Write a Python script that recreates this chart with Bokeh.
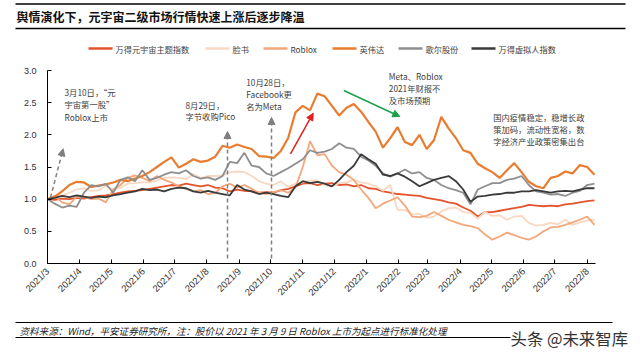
import math
import pandas as pd
from bokeh.plotting import figure
from bokeh.layouts import column
from bokeh.models import (Range1d, FixedTicker, PrintfTickFormatter, Arrow,
                          NormalHead, Label)
from bokeh.embed import file_html
from bokeh.resources import INLINE

# ---------------- data (weekly, normalised to 2021-03-09 = 1) ----------------
series_names = ["万得元宇宙主题指数", "脸书", "Roblox", "英伟达", "歌尔股份", "万得虚拟人指数"]

metaverse_idx = [1.00, 0.99, 1.01, 1.00, 1.02, 1.01, 1.03, 1.05, 1.06, 1.08,
                 1.10, 1.12, 1.13, 1.14, 1.16, 1.18, 1.20, 1.22, 1.21, 1.24,
                 1.22, 1.20, 1.22, 1.18, 1.17, 1.12, 1.15, 1.13, 1.12, 1.10,
                 1.11, 1.10, 1.14, 1.16, 1.20, 1.24, 1.25, 1.22, 1.24, 1.25,
                 1.22, 1.23, 1.20, 1.22, 1.17, 1.16, 1.12, 1.10, 1.08, 1.07,
                 1.06, 1.05, 1.02, 1.00, 0.98, 0.95, 0.93, 0.87, 0.82, 0.73,
                 0.80, 0.80, 0.82, 0.84, 0.86, 0.88, 0.91, 0.90, 0.89, 0.90,
                 0.89, 0.92, 0.93, 0.95, 0.97, 0.98]

facebook = [1.00, 1.05, 1.06, 1.10, 1.15, 1.17, 1.13, 1.14, 1.20, 1.15,
            1.18, 1.24, 1.25, 1.26, 1.26, 1.29, 1.33, 1.34, 1.33, 1.31,
            1.39, 1.33, 1.36, 1.36, 1.37, 1.42, 1.43, 1.42, 1.36, 1.28,
            1.24, 1.22, 1.28, 1.19, 1.24, 1.26, 1.29, 1.29, 1.22, 1.20,
            1.25, 1.26, 1.30, 1.26, 1.24, 1.20, 1.13, 1.22, 0.83, 0.83,
            0.76, 0.77, 0.71, 0.73, 0.81, 0.86, 0.87, 0.80, 0.79, 0.70,
            0.80, 0.74, 0.75, 0.68, 0.73, 0.74, 0.63, 0.59, 0.60, 0.63,
            0.61, 0.68, 0.60, 0.64, 0.67, 0.68]

roblox = [1.00, 1.05, 0.95, 0.92, 1.04, 1.03, 1.00, 1.01, 0.95, 1.15,
          1.22, 1.33, 1.37, 1.33, 1.28, 1.36, 1.30, 1.26, 1.20, 1.16,
          1.12, 1.14, 1.08, 1.10, 1.20, 1.24, 1.18, 1.22, 1.16, 1.10,
          1.08, 1.11, 1.14, 1.10, 1.18, 1.50, 1.90, 1.68, 1.70, 1.52,
          1.42, 1.38, 1.30, 1.15, 1.02, 0.86, 0.93, 0.98, 1.03, 0.90,
          0.73, 0.72, 0.74, 0.80, 0.74, 0.68, 0.64, 0.60, 0.58, 0.55,
          0.45, 0.37, 0.42, 0.48, 0.44, 0.40, 0.37, 0.42, 0.50, 0.56,
          0.57, 0.60, 0.64, 0.68, 0.73, 0.60]

nvidia = [1.00, 1.04, 1.12, 1.22, 1.27, 1.26, 1.19, 1.21, 1.23, 1.26,
          1.30, 1.28, 1.32, 1.36, 1.42, 1.50, 1.58, 1.65, 1.49, 1.55,
          1.62, 1.58, 1.60, 1.66, 1.83, 1.80, 1.85, 1.81, 1.78, 1.67,
          1.66, 1.64, 1.75, 1.95, 2.35, 2.45, 2.38, 2.64, 2.60, 2.45,
          2.30, 2.42, 2.48, 2.36, 2.20, 2.05, 1.80, 1.95, 2.12, 1.89,
          1.84, 2.00, 1.78, 1.92, 2.28, 2.10, 1.95, 1.76, 1.72, 1.55,
          1.48, 1.42, 1.33, 1.45, 1.56, 1.42, 1.27, 1.20, 1.17, 1.33,
          1.36, 1.43, 1.40, 1.53, 1.50, 1.38]

goertek = [1.00, 0.93, 0.87, 0.90, 0.88, 1.10, 1.22, 1.20, 1.24, 1.10,
           1.30, 1.34, 1.28, 1.45, 1.30, 1.33, 1.38, 1.42, 1.40, 1.45,
           1.36, 1.32, 1.34, 1.30, 1.36, 1.58, 1.56, 1.72, 1.52, 1.50,
           1.40, 1.36, 1.42, 1.48, 1.55, 1.62, 1.76, 1.72, 1.74, 1.78,
           1.87, 1.80, 1.78, 1.66, 1.60, 1.52, 1.40, 1.35, 1.40, 1.46,
           1.40, 1.42, 1.33, 1.30, 1.22, 1.17, 1.14, 1.10, 0.92, 1.15,
           1.20, 1.25, 1.25, 1.30, 1.32, 1.36, 1.22, 1.12, 1.10, 1.07,
           1.08, 1.05, 1.10, 1.13, 1.22, 1.24]

virtual_human_idx = [1.00, 1.02, 1.05, 1.03, 1.06, 1.04, 1.02, 1.04, 1.03, 1.06,
                     1.08, 1.10, 1.12, 1.16, 1.14, 1.15, 1.12, 1.16, 1.18, 1.17,
                     1.12, 1.10, 1.13, 1.10, 1.08, 1.06, 1.22, 1.15, 1.12, 1.08,
                     1.10, 1.08, 1.05, 1.03, 1.20, 1.28, 1.25, 1.27, 1.24, 1.20,
                     1.30, 1.42, 1.52, 1.70, 1.62, 1.55, 1.38, 1.36, 1.40, 1.35,
                     1.28, 1.20, 1.25, 1.30, 1.33, 1.36, 1.28, 1.15, 0.96, 1.04,
                     1.05, 1.07, 1.08, 1.10, 1.10, 1.12, 1.12, 1.14, 1.12, 1.10,
                     1.12, 1.13, 1.12, 1.15, 1.17, 1.17]

tick_labels = ["2021/3", "2021/4", "2021/5", "2021/6", "2021/7", "2021/8", "2021/9",
               "2021/10", "2021/11", "2021/12", "2022/1", "2022/2", "2022/3",
               "2022/4", "2022/5", "2022/6", "2022/7", "2022/8"]
y_ticks = [0.0, 0.5, 1.0, 1.5, 2.0, 2.5, 3.0]

all_series = [metaverse_idx, facebook, roblox, nvidia, goertek, virtual_human_idx]
colors = ["#E4532B", "#F9D8C3", "#F3A77B", "#E97C2F", "#8E8E8E", "#3A3A3A"]
widths = [1.8, 1.8, 1.8, 2.2, 1.8, 1.8]

start = pd.Timestamp("2021-03-09")
dates = pd.date_range(start, periods=len(nvidia), freq="7D")
xdays = [(d - start).days for d in dates]
tick_pos = [float((start + pd.DateOffset(months=k) - start).days) for k in range(len(tick_labels))]

X0, X1 = 0, xdays[-1] + 1
Y0, Y1 = 0.0, 3.0
CJK = "Noto Sans CJK SC"
W = 640
TOP_H, MAIN_H, FOOT_H = 62, 256, 38   # page rows: 0-62, 62-318, 318-356

# page-pixel -> data helpers for the chart frame (x 47..595, y 70..263 on the page)
PX_L, PX_R, PY_T, PY_B = 47, 595, 70, 263
def dx(px):
    return X0 + (px - PX_L) * (X1 - X0) / (PX_R - PX_L)
def dy(py):
    return Y0 + (PY_B - py) * (Y1 - Y0) / (PY_B - PY_T)

def blank(h, y_top):
    f = figure(width=W, height=h, x_range=Range1d(0, W), y_range=Range1d(y_top + h, y_top),
               output_backend="svg", toolbar_location=None, x_axis_type=None, y_axis_type=None,
               min_border=0, min_border_left=0, min_border_right=0, min_border_top=0,
               min_border_bottom=0, frame_align=False)
    f.outline_line_color = None
    f.xgrid.visible = False
    f.ygrid.visible = False
    return f

def add_label(f, x, y, text, size="8.3px", color="#404040", style="normal"):
    f.add_layout(Label(x=x, y=y, text=text, text_font=CJK, text_font_size=size,
                       text_color=color, text_font_style=style, text_baseline="middle",
                       text_align="left"))

# ---------------- top: title + legend ----------------
top = blank(TOP_H, 0)
top.segment(x0=[15, 15], y0=[3.5, 28], x1=[625, 625], y1=[3.5, 28], line_color="black", line_width=1.4)
add_label(top, 16, 15.5, "舆情演化下，元宇宙二级市场行情快速上涨后逐步降温", size="12px",
          color="#111111", style="bold")
legend_x = [88, 205, 263, 332, 398, 471]   # legend item left edges (page px)
for lx, name, c in zip(legend_x, series_names, colors):
    top.segment(x0=[lx], y0=[48], x1=[lx + 24], y1=[48], line_color=c, line_width=2.5)
    add_label(top, lx + 27, 48, name, size="8.2px", color="#404040")

# ---------------- main chart ----------------
p = figure(width=W, height=MAIN_H, x_range=Range1d(X0, X1), y_range=Range1d(Y0, Y1),
           output_backend="svg", toolbar_location=None, frame_align=False,
           min_border_left=PX_L, min_border_right=W - PX_R,
           min_border_top=PY_T - TOP_H, min_border_bottom=TOP_H + MAIN_H - PY_B)
p.outline_line_color = None
p.xgrid.visible = False
p.ygrid.visible = False

for ys, c, w, n in zip(all_series, colors, widths, series_names):
    p.line(xdays, ys, line_color=c, line_width=w, name=n)

p.xaxis.ticker = FixedTicker(ticks=tick_pos)
p.xaxis.major_label_overrides = {t: lab for t, lab in zip(tick_pos, tick_labels)}
p.xaxis.major_label_orientation = math.pi / 4
p.yaxis.ticker = FixedTicker(ticks=y_ticks)
p.yaxis.formatter = PrintfTickFormatter(format="%.1f")
for ax in (p.xaxis[0], p.yaxis[0]):
    ax.axis_line_color = "black"
    ax.axis_line_width = 1
    ax.major_tick_in = 4
    ax.major_tick_out = 0
    ax.minor_tick_in = 0
    ax.minor_tick_out = 0
    ax.major_tick_line_color = "black"
    ax.major_label_text_font = "Liberation Sans"
    ax.major_label_text_color = "#333333"
p.yaxis.major_label_text_font_size = "9px"
p.yaxis.major_label_standoff = 11
p.xaxis.major_label_text_font_size = "9.5px"
p.xaxis.major_label_standoff = 6

def label(px, py, text):
    p.add_layout(Label(x=dx(px), y=dy(py), text=text, text_font=CJK, text_font_size="8.3px",
                       text_color="#404040", text_baseline="middle", text_align="left"))

for i, t in enumerate(["3月10日，“元", "宇宙第一股”", "Roblox上市"]):
    label(64, 91 + 12.6 * i, t)
for i, t in enumerate(["8月29日，", "字节收购Pico"]):
    label(185, 104 + 11.6 * i, t)
for i, t in enumerate(["10月28日，", "Facebook更", "名为Meta"]):
    label(245.7, 81.7 + 12 * i, t)
for i, t in enumerate(["Meta、Roblox", "2021年财报不", "及市场预期"]):
    label(388.3, 75.3 + 12.3 * i, t)
for i, t in enumerate(["国内疫情稳定，稳增长政", "策加码，流动性宽裕，数", "字经济产业政策密集出台"]):
    label(492.7, 116.7 + 12 * i, t)

gray = "#7F7F7F"
def arrow(x1, y1, x2, y2, color, dash="solid", size=7):
    p.add_layout(Arrow(end=NormalHead(size=size, fill_color=color, line_color=color),
                       x_start=dx(x1), y_start=dy(y1), x_end=dx(x2), y_end=dy(y2),
                       line_color=color, line_width=1.5, line_dash=dash))

arrow(50, 197, 62.7, 148.3, gray, "4 3")
arrow(227, 258, 227, 131, gray, "4 3")
arrow(271, 258, 271, 117, gray, "4 3")
arrow(290, 153.3, 312.7, 112.7, "#E0201E")
arrow(343.3, 90, 399.3, 116, "#1AA04A")

# ---------------- footer ----------------
foot = blank(FOOT_H, TOP_H + MAIN_H)
foot.segment(x0=[15, 15], y0=[322, 337], x1=[612, 510], y1=[322, 337], line_color="black", line_width=1.0)
add_label(foot, 19, 330, "资料来源：Wind，平安证券研究所，注：股价以 2021 年 3 月 9 日 Roblox 上市为起点进行标准化处理",
          size="9.55px", color="#222222", style="italic")
add_label(foot, 510, 337, "头条 @未来智库", size="16.4px", color="#333333")

layout = column(top, p, foot, spacing=0)
open("out.html", "w").write(file_html(layout, INLINE))
